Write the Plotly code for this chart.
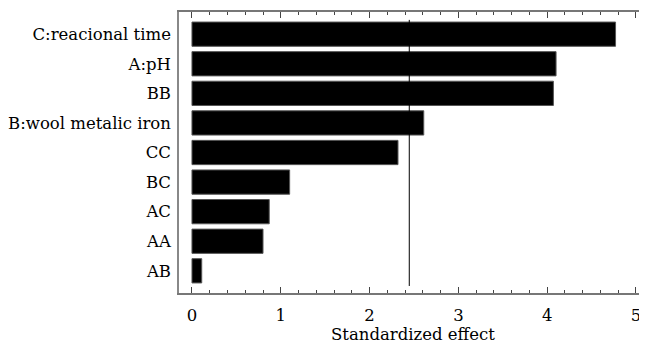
import plotly.graph_objects as go

factors = ["C:reacional time", "A:pH", "BB", "B:wool metalic iron", "CC", "BC", "AC", "AA", "AB"]
effects = [4.77, 4.10, 4.07, 2.61, 2.32, 1.10, 0.87, 0.80, 0.11]
critical_value = 2.447
x_tick_vals = [0, 1, 2, 3, 4, 5]

font_family = "DejaVu Serif"

fig = go.Figure()
fig.add_trace(go.Bar(
    x=effects, y=factors, orientation="h",
    marker=dict(color="black", line=dict(color="#555555", width=1)),
    width=0.82,
))
fig.add_shape(type="line", xref="x", yref="paper",
              x0=critical_value, x1=critical_value, y0=0.025, y1=0.972,
              line=dict(color="black", width=1))

fig.update_layout(
    width=639, height=340,
    margin=dict(l=171, r=0, t=4, b=55),
    paper_bgcolor="white", plot_bgcolor="white",
    showlegend=False,
    font=dict(family=font_family, size=16.5, color="black"),
)
fig.update_xaxes(
    range=[-0.146, 5.124],
    tickvals=x_tick_vals,
    ticks="inside", ticklen=6, tickwidth=1, tickcolor="#444444",
    minor=dict(dtick=0.2, ticks="inside", ticklen=3, tickcolor="#444444", showgrid=False),
    showline=True, linecolor="#777777", linewidth=1.5, mirror="allticks",
    showgrid=False, zeroline=False,
    title=dict(text="Standardized effect", standoff=4, font=dict(family=font_family, size=16.5)),
    tickfont=dict(family=font_family, size=16.5),
    ticklabelstandoff=6,
    automargin=False,
)
fig.update_yaxes(
    categoryorder="array", categoryarray=factors,
    autorange=False, range=[8.75, -0.75],
    showline=True, linecolor="#888888", linewidth=1.5,
    ticks="", showgrid=False, zeroline=False,
    tickfont=dict(family=font_family, size=16.5),
    ticklabelstandoff=3,
    automargin=False,
)

fig.write_html("out.html")
